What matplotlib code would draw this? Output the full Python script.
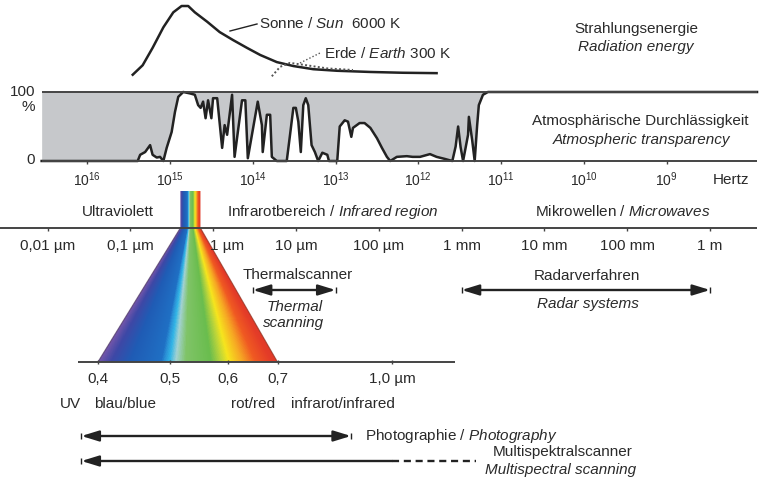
import matplotlib.pyplot as plt
import numpy as np
from matplotlib.colors import LinearSegmentedColormap

plt.rcParams['font.family'] = ['Liberation Sans', 'DejaVu Sans']
plt.rcParams['mathtext.fontset'] = 'custom'
plt.rcParams['mathtext.rm'] = 'Liberation Sans'
plt.rcParams['mathtext.it'] = 'Liberation Sans:italic'

C = 3e8  # speed of light [m/s]

#=============================================
# data
#=============================================
freq_exp = [16, 15, 14, 13, 12, 11, 10, 9]

wl_ticks_m = [1e-8, 1e-7, 1e-6, 1e-5, 1e-4, 1e-3, 1e-2, 1e-1, 1.0]
wl_labels = ['0,01 µm', '0,1 µm', '1 µm', '10 µm', '100 µm',
             '1 mm', '10 mm', '100 mm', '1 m']

vis_ticks_um = [0.4, 0.5, 0.6, 0.7, 1.0]
vis_labels = ['0,4', '0,5', '0,6', '0,7', '1,0 µm']

# atmospheric transparency: log10(frequency / Hz) and percent
trans_logf = [16.55, 15.39, 15.36, 15.30, 15.24, 15.21, 15.16, 15.12, 15.08,
              15.04, 14.98, 14.94, 14.90, 14.84, 14.76, 14.70, 14.66, 14.63,
              14.60, 14.57, 14.54, 14.50, 14.48, 14.43, 14.37, 14.34, 14.31,
              14.25, 14.22, 14.13, 14.09, 14.06, 13.94, 13.89, 13.88, 13.83,
              13.79, 13.77, 13.71, 13.59, 13.55, 13.51, 13.48, 13.45, 13.42,
              13.39, 13.36, 13.33, 13.29, 13.25, 13.21, 13.16, 13.10, 13.08,
              12.98, 12.95, 12.89, 12.85, 12.81, 12.79, 12.71, 12.65, 12.58,
              12.50, 12.44, 12.38, 12.34, 12.26, 12.14, 12.07, 11.98, 11.86,
              11.78, 11.68, 11.59, 11.55, 11.52, 11.49, 11.46, 11.43, 11.40,
              11.39, 11.35, 11.32, 11.29, 11.27, 11.22, 11.16, 7.91]
trans_pct = [0, 0, 9, 13, 23, 9, 5, 6, 0,
             19, 42, 71, 93, 100, 98, 96, 81, 77,
             86, 62, 88, 62, 91, 91, 19, 52, 38,
             96, 6, 88, 88, 4, 86, 52, 13, 67,
             67, 6, 0, 0, 38, 77, 77, 57, 13,
             81, 91, 81, 23, 13, 0, 12, 9, 0,
             0, 50, 59, 57, 35, 48, 55, 55, 48,
             33, 19, 6, 0, 6, 7, 6, 6, 10,
             6, 3, 0, 21, 50, 20, 0, 19, 38,
             64, 30, 0, 52, 81, 96, 100, 100]

# radiation energy (relative) of sun and earth
sun_logf = [15.45, 15.33, 15.21, 15.08, 14.96, 14.86, 14.78, 14.70, 14.55,
            14.40, 14.24, 14.07, 13.91, 13.71, 13.51, 13.27, 12.98, 12.58,
            12.19, 11.78]
sun_rel = [0.13, 0.25, 0.47, 0.73, 0.92, 1.0, 1.0, 0.92, 0.80,
           0.67, 0.57, 0.47, 0.38, 0.29, 0.24, 0.20, 0.18, 0.165,
           0.155, 0.15]
earth_logf = [13.77, 13.67, 13.55, 13.35, 13.10, 12.79]
earth_rel = [0.11, 0.23, 0.28, 0.25, 0.21, 0.19]

# sensor ranges
thermal_m = [3e-6, 30e-6]
radar_m = [1e-3, 1.0]
photo_um = [0.38, 0.88]
mss_solid_um = [0.38, 1.0]
mss_dashed_um = [1.0, 1.3]

# colours of the visible spectrum (wavelength in µm)
spec_um = [0.400, 0.416, 0.442, 0.487, 0.492, 0.500, 0.510, 0.526,
           0.569, 0.588, 0.602, 0.629, 0.654, 0.688, 0.700]
spec_col = ['#7456aa', '#3e48a6', '#1f5cb5', '#2070c4', '#2a90d6', '#33b5e6',
            '#a3d2d2', '#80c468', '#6abd4e', '#bcd53a', '#f6e51e', '#f6a424',
            '#f05a22', '#e43c28', '#e03a28']

#=============================================
# layout
#=============================================
W, H = 761, 487
TXT = '#2a2a2a'
LINE = '#222222'
GRAY = '#c6c8cb'
FS = 11

fig = plt.figure(figsize=(W / 100, H / 100), dpi=100)


def band(y0, y1):
    return [0, 1 - y1 / H, 1, (y1 - y0) / H]


def bare(ax):
    ax.set_axis_off()
    return ax


F_LIM = (10 ** 17.053, 10 ** 7.862)     # frequency at left / right figure edge
V_LIM = (10 ** -0.5304, 10 ** 0.4993)   # µm scale of the visible fan

ax_px = bare(fig.add_axes([0, 0, 1, 1]))
ax_px.set_xlim(0, W)
ax_px.set_ylim(H, 0)

ax_f = bare(fig.add_axes([0, 0, 1, 1]))
ax_f.set_xscale('log')
ax_f.set_xlim(*F_LIM)
ax_f.set_ylim(H, 0)

ax_v = bare(fig.add_axes([0, 0, 1, 1]))
ax_v.set_xscale('log')
ax_v.set_xlim(*V_LIM)
ax_v.set_ylim(H, 0)

ax_t = bare(fig.add_axes(band(92, 161)))
ax_t.set_xscale('log')
ax_t.set_xlim(*F_LIM)
ax_t.set_ylim(0, 100)

ax_s = bare(fig.add_axes(band(6, 85)))
ax_s.set_xscale('log')
ax_s.set_xlim(*F_LIM)
ax_s.set_ylim(0, 1)

#---------------- radiation energy
ax_s.plot(10 ** np.array(sun_logf), sun_rel, color=LINE, lw=1.8,
          clip_on=False)
ax_s.plot(10 ** np.array(earth_logf), earth_rel, color='#555555', lw=1.4,
          ls=(0, (1, 1.2)), clip_on=False)
ax_px.plot([230, 257], [31, 24], color=LINE, lw=1.0)
ax_px.plot([300, 320], [63, 53], color='#555555', lw=1.0, ls=(0, (1, 1.5)))
ax_px.text(259, 24, 'Sonne / $\\mathit{Sun}$  6000 K', fontsize=FS,
           color=TXT, va='center')
ax_px.text(324, 53, 'Erde / $\\mathit{Earth}$ 300 K', fontsize=FS,
           color=TXT, va='center')
ax_px.text(636, 29, 'Strahlungsenergie', fontsize=FS, color=TXT,
           ha='center', va='center')
ax_px.text(636, 47, 'Radiation energy', fontsize=FS, color=TXT,
           ha='center', va='center', style='italic')

#---------------- atmospheric transparency
tf = 10 ** np.array(trans_logf)
ax_t.fill_between(tf, trans_pct, 100, color=GRAY, lw=0)
ax_t.plot(tf, trans_pct, color=LINE, lw=1.8, clip_on=False,
          solid_joinstyle='round')
ax_t.hlines([0, 100], tf[0], tf[-1], color='#444444', lw=1.4, clip_on=False)
ax_px.text(35, 92, '100', fontsize=FS, color=TXT, ha='right', va='center')
ax_px.text(35, 107, '%', fontsize=FS, color=TXT, ha='right', va='center')
ax_px.text(35, 160, '0', fontsize=FS, color=TXT, ha='right', va='center')
ax_px.text(640, 121, 'Atmosphärische Durchlässigkeit', fontsize=FS,
           color=TXT, ha='center', va='center')
ax_px.text(641, 140, 'Atmospheric transparency', fontsize=FS, color=TXT,
           ha='center', va='center', style='italic')

#---------------- frequency scale
for n in freq_exp:
    ax_f.vlines(10.0 ** n, 161, 164, color='#444444', lw=1.0)
    ax_f.text(10.0 ** n, 180, '10$^{%d}$' % n, fontsize=10, color=TXT,
              ha='center', va='center')
ax_px.text(731, 180, 'Hertz', fontsize=FS, color=TXT, ha='center',
           va='center')

#---------------- regions + wavelength scale
ax_px.text(118, 212, 'Ultraviolett', fontsize=FS, color=TXT, ha='center',
           va='center')
ax_px.text(333, 212, 'Infrarotbereich / $\\mathit{Infrared\\ region}$',
           fontsize=FS, color=TXT, ha='center', va='center')
ax_px.text(623, 212, 'Mikrowellen / $\\mathit{Microwaves}$', fontsize=FS,
           color=TXT, ha='center', va='center')
ax_px.hlines(228, 0, 757, color='#444444', lw=1.4, zorder=3)
for wl, lab in zip(wl_ticks_m, wl_labels):
    ax_f.vlines(C / wl, 228, 231, color='#444444', lw=1.0)
    if lab == '1 µm':
        ax_f.annotate(lab, (C / wl, 246), xytext=(-3, 0),
                      textcoords='offset pixels', fontsize=FS, color=TXT,
                      ha='left', va='center')
    else:
        ax_f.text(C / wl, 246, lab, fontsize=FS, color=TXT, ha='center',
                  va='center')

#---------------- visible spectrum strip and fan (raster gradient)
spec_pos = (np.log(spec_um) - np.log(spec_um[0])) / \
    (np.log(spec_um[-1]) - np.log(spec_um[0]))
cmap = LinearSegmentedColormap.from_list('vis', list(zip(spec_pos, spec_col)))
to_px = ax_px.transData.inverted()


def px_of(ax, x, y):
    return to_px.transform(ax.transData.transform((x, y)))


FAN_TOP, FAN_BOT, STRIP_TOP = 228, 362, 191
top_l = px_of(ax_f, C / (spec_um[0] * 1e-6), FAN_TOP)[0]
top_r = px_of(ax_f, C / (spec_um[-1] * 1e-6), FAN_TOP)[0]
bot_l = px_of(ax_v, spec_um[0], FAN_BOT)[0]
bot_r = px_of(ax_v, spec_um[-1], FAN_BOT)[0]

yy, xx = np.mgrid[0:H, 0:W] + 0.5
s = np.clip((yy - FAN_TOP) / (FAN_BOT - FAN_TOP), 0, 1)
xl = top_l + (bot_l - top_l) * s
xr = top_r + (bot_r - top_r) * s
frac = np.clip((xx - xl) / (xr - xl), 0, 1)
img = cmap(frac)
inside = np.clip(np.minimum(xx + 0.5 - xl, xr - (xx - 0.5)), 0, 1)
inside[(yy < STRIP_TOP) | (yy > FAN_BOT)] = 0
img[..., 3] = inside
ax_px.imshow(img, extent=(0, W, H, 0), origin='upper', aspect='auto',
             interpolation='nearest', zorder=2)
ax_px.plot([top_l, bot_l], [FAN_TOP, FAN_BOT], color='#4a3560', lw=0.8,
           alpha=0.7, zorder=2)
ax_px.plot([top_r, bot_r], [FAN_TOP, FAN_BOT], color='#8a3020', lw=0.8,
           alpha=0.7, zorder=2)
ax_px.set_xlim(0, W)
ax_px.set_ylim(H, 0)

#---------------- visible µm scale
ax_px.hlines(362, 78, 455, color='#444444', lw=1.4, zorder=3)
for v, lab in zip(vis_ticks_um, vis_labels):
    ax_v.vlines(v, 360, 364, color='#444444', lw=1.0)
    ax_v.text(v, 379, lab, fontsize=FS, color=TXT, ha='center', va='center')
for x, lab in [(70, 'UV'), (125, 'blau/blue'), (253, 'rot/red'),
               (343, 'infrarot/infrared')]:
    ax_px.text(x, 404, lab, fontsize=FS, color=TXT, ha='center', va='center')

#---------------- sensor ranges
HEAD = dict(mutation_scale=16, lw=1.7, color=LINE, shrinkA=0, shrinkB=0)


def range_arrow(ax, x0, x1, y, style='<|-|>'):
    ax.annotate('', xy=(x1, y), xytext=(x0, y),
                arrowprops=dict(arrowstyle=style + ',head_length=0.65,'
                                'head_width=0.2', **HEAD))
    ax.vlines([x0, x1] if style == '<|-|>' else [x0], y - 3, y + 3,
              color=LINE, lw=1.0)


range_arrow(ax_f, C / thermal_m[0], C / thermal_m[1], 290)
ax_px.text(298, 275, 'Thermalscanner', fontsize=FS, color=TXT, ha='center',
           va='center')
ax_px.text(295, 307, 'Thermal', fontsize=FS, color=TXT, ha='center',
           va='center', style='italic')
ax_px.text(294, 323, 'scanning', fontsize=FS, color=TXT, ha='center',
           va='center', style='italic')

range_arrow(ax_f, C / radar_m[0], C / radar_m[1], 290)
ax_px.text(587, 276, 'Radarverfahren', fontsize=FS, color=TXT, ha='center',
           va='center')
ax_px.text(588, 304, 'Radar systems', fontsize=FS, color=TXT, ha='center',
           va='center', style='italic')

range_arrow(ax_v, photo_um[0], photo_um[1], 436)
ax_px.text(365, 436, 'Photographie / $\\mathit{Photography}$', fontsize=FS,
           color=TXT, va='center')

range_arrow(ax_v, mss_solid_um[0], mss_solid_um[1], 461, style='<|-')
ax_v.plot(mss_dashed_um, [461, 461], color=LINE, lw=1.7, ls=(0, (3, 2)))
ax_px.text(563, 452, 'Multispektralscanner', fontsize=FS, color=TXT,
           ha='center', va='center')
ax_px.text(561, 470, 'Multispectral scanning', fontsize=FS, color=TXT,
           ha='center', va='center', style='italic')

plt.savefig('out.png', dpi=100)
